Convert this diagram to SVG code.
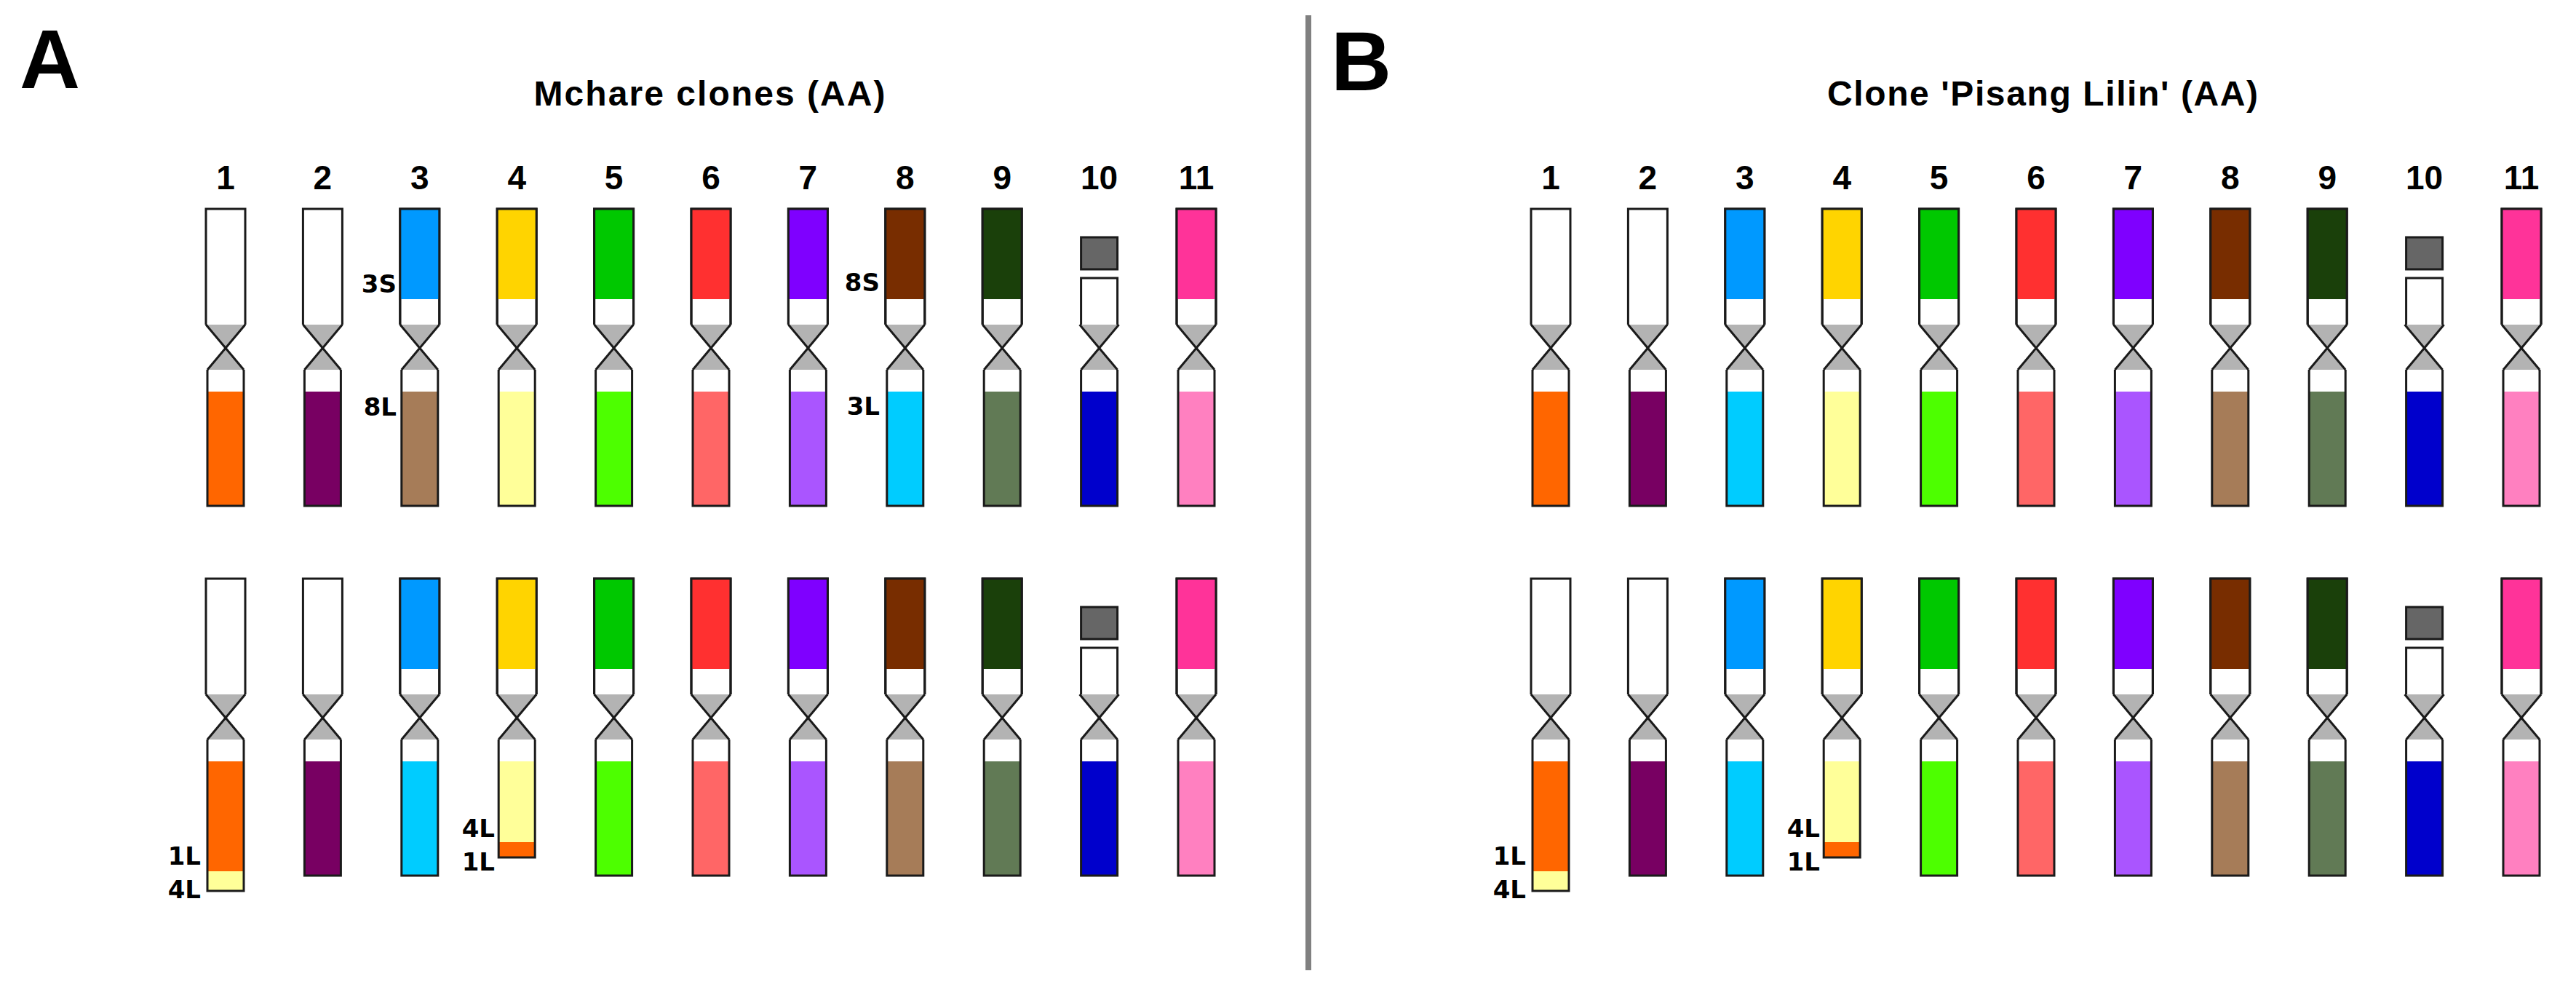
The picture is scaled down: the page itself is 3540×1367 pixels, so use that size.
<svg xmlns="http://www.w3.org/2000/svg" xmlns:xlink="http://www.w3.org/1999/xlink" width="3540" height="1367" viewBox="0 0 3540 1367">
<style>
.ol{fill:none;stroke:#1a1a1a;stroke-width:3;stroke-linejoin:miter}
.w{fill:#fff}
.pl{font-family:"Liberation Sans",Arial,sans-serif;font-weight:bold;fill:#000}
.ti{font-family:"Liberation Sans",Arial,sans-serif;font-weight:bold;font-size:48px;fill:#000;text-anchor:middle}
.num{font-family:"Liberation Sans",Arial,sans-serif;font-weight:bold;font-size:46px;fill:#000;text-anchor:middle}
.lb{font-family:"DejaVu Sans",sans-serif;font-weight:bold;font-size:34px;fill:#000;text-anchor:end}
</style>
<defs>
<g id="cen">
<polygon points="-27,159 27,159 0,190" fill="#b3b3b3"/>
<polygon points="-25,221 25,221 0,190" fill="#b3b3b3"/>
<path class="ol" d="M-27,159 L25,221 M27,159 L-25,221"/>
</g>
<g id="up"><rect class="w" x="-27" y="0" width="54" height="159"/><path class="ol" d="M-27,159 V0 H27 V159"/></g>
<g id="lo"><rect class="w" x="-25" y="221" width="50" height="187"/><path class="ol" d="M-25,221 V408 H25 V221"/></g>
<g id="up10"><rect x="-25" y="39" width="50" height="44" fill="#666" stroke="#1a1a1a" stroke-width="3"/><rect class="w" x="-25" y="95" width="50" height="64"/><path class="ol" d="M-25,159 V95 H25 V159"/></g>
</defs>
<rect x="0" y="0" width="3540" height="1367" fill="#fff"/>
<rect x="1794" y="21" width="8" height="1312" fill="#808080"/>
<text class="pl" x="27" y="121" font-size="115">A</text>
<text class="pl" x="1829" y="124" font-size="115">B</text>
<text class="ti" x="975" y="145" textLength="483">Mchare clones (AA)</text>
<text class="ti" x="2807" y="145" textLength="592">Clone 'Pisang Lilin' (AA)</text>
<g id="numsA">
<text class="num" x="310" y="260">1</text><text class="num" x="443.4" y="260">2</text><text class="num" x="576.8" y="260">3</text><text class="num" x="710.2" y="260">4</text><text class="num" x="843.6" y="260">5</text><text class="num" x="977" y="260">6</text><text class="num" x="1110.4" y="260">7</text><text class="num" x="1243.8" y="260">8</text><text class="num" x="1377.2" y="260">9</text><text class="num" x="1510.6" y="260">10</text><text class="num" x="1644" y="260">11</text>
</g>
<g id="numsB">
<text class="num" x="2131" y="260">1</text><text class="num" x="2264.4" y="260">2</text><text class="num" x="2397.8" y="260">3</text><text class="num" x="2531.2" y="260">4</text><text class="num" x="2664.6" y="260">5</text><text class="num" x="2798" y="260">6</text><text class="num" x="2931.4" y="260">7</text><text class="num" x="3064.8" y="260">8</text><text class="num" x="3198.2" y="260">9</text><text class="num" x="3331.6" y="260">10</text><text class="num" x="3465" y="260">11</text>
</g>

<!-- Panel A top row -->
<g id="A1-1" transform="translate(310,287)"><use xlink:href="#up"/><use xlink:href="#cen"/><rect x="-25" y="251" width="50" height="157" fill="#ff6600"/><use xlink:href="#lo" opacity="0"/><path class="ol" d="M-25,221 V408 H25 V221"/></g>
<g id="A1-2" transform="translate(443.4,287)"><use xlink:href="#up"/><use xlink:href="#cen"/><rect x="-25" y="251" width="50" height="157" fill="#780062"/><path class="ol" d="M-25,221 V408 H25 V221"/></g>
<g id="A1-3" transform="translate(576.8,287)"><use xlink:href="#up"/><rect x="-27" y="0" width="54" height="124" fill="#0099ff"/><path class="ol" d="M-27,159 V0 H27 V159"/><use xlink:href="#cen"/><rect x="-25" y="251" width="50" height="157" fill="#a67c58"/><path class="ol" d="M-25,221 V408 H25 V221"/></g>
<g id="A1-4" transform="translate(710.2,287)"><use xlink:href="#up"/><rect x="-27" y="0" width="54" height="124" fill="#ffd400"/><path class="ol" d="M-27,159 V0 H27 V159"/><use xlink:href="#cen"/><rect x="-25" y="251" width="50" height="157" fill="#ffff99"/><path class="ol" d="M-25,221 V408 H25 V221"/></g>
<g id="A1-5" transform="translate(843.6,287)"><use xlink:href="#up"/><rect x="-27" y="0" width="54" height="124" fill="#00c800"/><path class="ol" d="M-27,159 V0 H27 V159"/><use xlink:href="#cen"/><rect x="-25" y="251" width="50" height="157" fill="#4dff00"/><path class="ol" d="M-25,221 V408 H25 V221"/></g>
<g id="A1-6" transform="translate(977,287)"><use xlink:href="#up"/><rect x="-27" y="0" width="54" height="124" fill="#ff3030"/><path class="ol" d="M-27,159 V0 H27 V159"/><use xlink:href="#cen"/><rect x="-25" y="251" width="50" height="157" fill="#ff6666"/><path class="ol" d="M-25,221 V408 H25 V221"/></g>
<g id="A1-7" transform="translate(1110.4,287)"><use xlink:href="#up"/><rect x="-27" y="0" width="54" height="124" fill="#7f00ff"/><path class="ol" d="M-27,159 V0 H27 V159"/><use xlink:href="#cen"/><rect x="-25" y="251" width="50" height="157" fill="#aa55ff"/><path class="ol" d="M-25,221 V408 H25 V221"/></g>
<g id="A1-8" transform="translate(1243.8,287)"><use xlink:href="#up"/><rect x="-27" y="0" width="54" height="124" fill="#782d00"/><path class="ol" d="M-27,159 V0 H27 V159"/><use xlink:href="#cen"/><rect x="-25" y="251" width="50" height="157" fill="#00ccff"/><path class="ol" d="M-25,221 V408 H25 V221"/></g>
<g id="A1-9" transform="translate(1377.2,287)"><use xlink:href="#up"/><rect x="-27" y="0" width="54" height="124" fill="#1a400a"/><path class="ol" d="M-27,159 V0 H27 V159"/><use xlink:href="#cen"/><rect x="-25" y="251" width="50" height="157" fill="#617a55"/><path class="ol" d="M-25,221 V408 H25 V221"/></g>
<g id="A1-10" transform="translate(1510.6,287)"><use xlink:href="#up10"/><use xlink:href="#cen"/><rect x="-25" y="251" width="50" height="157" fill="#0000cc"/><path class="ol" d="M-25,221 V408 H25 V221"/></g>
<g id="A1-11" transform="translate(1644,287)"><use xlink:href="#up"/><rect x="-27" y="0" width="54" height="124" fill="#ff3399"/><path class="ol" d="M-27,159 V0 H27 V159"/><use xlink:href="#cen"/><rect x="-25" y="251" width="50" height="157" fill="#ff80c0"/><path class="ol" d="M-25,221 V408 H25 V221"/></g>
<text class="lb" x="545" y="402">3S</text>
<text class="lb" x="545" y="571">8L</text>
<text class="lb" x="1209" y="400">8S</text>
<text class="lb" x="1209" y="570">3L</text>

<!-- Panel A bottom row -->
<g id="A2-1" transform="translate(310,795)"><use xlink:href="#up"/><use xlink:href="#cen"/><rect x="-25" y="251" width="50" height="151" fill="#ff6600"/><rect x="-25" y="402" width="50" height="27" fill="#ffff99"/><path class="ol" d="M-25,221 V429 H25 V221"/></g>
<g id="A2-2" transform="translate(443.4,795)"><use xlink:href="#up"/><use xlink:href="#cen"/><rect x="-25" y="251" width="50" height="157" fill="#780062"/><path class="ol" d="M-25,221 V408 H25 V221"/></g>
<g id="A2-3" transform="translate(576.8,795)"><use xlink:href="#up"/><rect x="-27" y="0" width="54" height="124" fill="#0099ff"/><path class="ol" d="M-27,159 V0 H27 V159"/><use xlink:href="#cen"/><rect x="-25" y="251" width="50" height="157" fill="#00ccff"/><path class="ol" d="M-25,221 V408 H25 V221"/></g>
<g id="A2-4" transform="translate(710.2,795)"><use xlink:href="#up"/><rect x="-27" y="0" width="54" height="124" fill="#ffd400"/><path class="ol" d="M-27,159 V0 H27 V159"/><use xlink:href="#cen"/><rect class="w" x="-25" y="221" width="50" height="30"/><rect x="-25" y="251" width="50" height="111" fill="#ffff99"/><rect x="-25" y="362" width="50" height="21" fill="#ff6600"/><path class="ol" d="M-25,221 V383 H25 V221"/></g>
<g id="A2-5" transform="translate(843.6,795)"><use xlink:href="#up"/><rect x="-27" y="0" width="54" height="124" fill="#00c800"/><path class="ol" d="M-27,159 V0 H27 V159"/><use xlink:href="#cen"/><rect x="-25" y="251" width="50" height="157" fill="#4dff00"/><path class="ol" d="M-25,221 V408 H25 V221"/></g>
<g id="A2-6" transform="translate(977,795)"><use xlink:href="#up"/><rect x="-27" y="0" width="54" height="124" fill="#ff3030"/><path class="ol" d="M-27,159 V0 H27 V159"/><use xlink:href="#cen"/><rect x="-25" y="251" width="50" height="157" fill="#ff6666"/><path class="ol" d="M-25,221 V408 H25 V221"/></g>
<g id="A2-7" transform="translate(1110.4,795)"><use xlink:href="#up"/><rect x="-27" y="0" width="54" height="124" fill="#7f00ff"/><path class="ol" d="M-27,159 V0 H27 V159"/><use xlink:href="#cen"/><rect x="-25" y="251" width="50" height="157" fill="#aa55ff"/><path class="ol" d="M-25,221 V408 H25 V221"/></g>
<g id="A2-8" transform="translate(1243.8,795)"><use xlink:href="#up"/><rect x="-27" y="0" width="54" height="124" fill="#782d00"/><path class="ol" d="M-27,159 V0 H27 V159"/><use xlink:href="#cen"/><rect x="-25" y="251" width="50" height="157" fill="#a67c58"/><path class="ol" d="M-25,221 V408 H25 V221"/></g>
<g id="A2-9" transform="translate(1377.2,795)"><use xlink:href="#up"/><rect x="-27" y="0" width="54" height="124" fill="#1a400a"/><path class="ol" d="M-27,159 V0 H27 V159"/><use xlink:href="#cen"/><rect x="-25" y="251" width="50" height="157" fill="#617a55"/><path class="ol" d="M-25,221 V408 H25 V221"/></g>
<g id="A2-10" transform="translate(1510.6,795)"><use xlink:href="#up10"/><use xlink:href="#cen"/><rect x="-25" y="251" width="50" height="157" fill="#0000cc"/><path class="ol" d="M-25,221 V408 H25 V221"/></g>
<g id="A2-11" transform="translate(1644,795)"><use xlink:href="#up"/><rect x="-27" y="0" width="54" height="124" fill="#ff3399"/><path class="ol" d="M-27,159 V0 H27 V159"/><use xlink:href="#cen"/><rect x="-25" y="251" width="50" height="157" fill="#ff80c0"/><path class="ol" d="M-25,221 V408 H25 V221"/></g>
<text class="lb" x="276" y="1188">1L</text>
<text class="lb" x="276" y="1234">4L</text>
<text class="lb" x="680" y="1150">4L</text>
<text class="lb" x="680" y="1196">1L</text>

<!-- Panel B top row -->
<g id="B1-1" transform="translate(2131,287)"><use xlink:href="#up"/><use xlink:href="#cen"/><rect x="-25" y="251" width="50" height="157" fill="#ff6600"/><path class="ol" d="M-25,221 V408 H25 V221"/></g>
<g id="B1-2" transform="translate(2264.4,287)"><use xlink:href="#up"/><use xlink:href="#cen"/><rect x="-25" y="251" width="50" height="157" fill="#780062"/><path class="ol" d="M-25,221 V408 H25 V221"/></g>
<g id="B1-3" transform="translate(2397.8,287)"><use xlink:href="#up"/><rect x="-27" y="0" width="54" height="124" fill="#0099ff"/><path class="ol" d="M-27,159 V0 H27 V159"/><use xlink:href="#cen"/><rect x="-25" y="251" width="50" height="157" fill="#00ccff"/><path class="ol" d="M-25,221 V408 H25 V221"/></g>
<g id="B1-4" transform="translate(2531.2,287)"><use xlink:href="#up"/><rect x="-27" y="0" width="54" height="124" fill="#ffd400"/><path class="ol" d="M-27,159 V0 H27 V159"/><use xlink:href="#cen"/><rect x="-25" y="251" width="50" height="157" fill="#ffff99"/><path class="ol" d="M-25,221 V408 H25 V221"/></g>
<g id="B1-5" transform="translate(2664.6,287)"><use xlink:href="#up"/><rect x="-27" y="0" width="54" height="124" fill="#00c800"/><path class="ol" d="M-27,159 V0 H27 V159"/><use xlink:href="#cen"/><rect x="-25" y="251" width="50" height="157" fill="#4dff00"/><path class="ol" d="M-25,221 V408 H25 V221"/></g>
<g id="B1-6" transform="translate(2798,287)"><use xlink:href="#up"/><rect x="-27" y="0" width="54" height="124" fill="#ff3030"/><path class="ol" d="M-27,159 V0 H27 V159"/><use xlink:href="#cen"/><rect x="-25" y="251" width="50" height="157" fill="#ff6666"/><path class="ol" d="M-25,221 V408 H25 V221"/></g>
<g id="B1-7" transform="translate(2931.4,287)"><use xlink:href="#up"/><rect x="-27" y="0" width="54" height="124" fill="#7f00ff"/><path class="ol" d="M-27,159 V0 H27 V159"/><use xlink:href="#cen"/><rect x="-25" y="251" width="50" height="157" fill="#aa55ff"/><path class="ol" d="M-25,221 V408 H25 V221"/></g>
<g id="B1-8" transform="translate(3064.8,287)"><use xlink:href="#up"/><rect x="-27" y="0" width="54" height="124" fill="#782d00"/><path class="ol" d="M-27,159 V0 H27 V159"/><use xlink:href="#cen"/><rect x="-25" y="251" width="50" height="157" fill="#a67c58"/><path class="ol" d="M-25,221 V408 H25 V221"/></g>
<g id="B1-9" transform="translate(3198.2,287)"><use xlink:href="#up"/><rect x="-27" y="0" width="54" height="124" fill="#1a400a"/><path class="ol" d="M-27,159 V0 H27 V159"/><use xlink:href="#cen"/><rect x="-25" y="251" width="50" height="157" fill="#617a55"/><path class="ol" d="M-25,221 V408 H25 V221"/></g>
<g id="B1-10" transform="translate(3331.6,287)"><use xlink:href="#up10"/><use xlink:href="#cen"/><rect x="-25" y="251" width="50" height="157" fill="#0000cc"/><path class="ol" d="M-25,221 V408 H25 V221"/></g>
<g id="B1-11" transform="translate(3465,287)"><use xlink:href="#up"/><rect x="-27" y="0" width="54" height="124" fill="#ff3399"/><path class="ol" d="M-27,159 V0 H27 V159"/><use xlink:href="#cen"/><rect x="-25" y="251" width="50" height="157" fill="#ff80c0"/><path class="ol" d="M-25,221 V408 H25 V221"/></g>

<!-- Panel B bottom row -->
<g id="B2-1" transform="translate(2131,795)"><use xlink:href="#up"/><use xlink:href="#cen"/><rect x="-25" y="251" width="50" height="151" fill="#ff6600"/><rect x="-25" y="402" width="50" height="27" fill="#ffff99"/><path class="ol" d="M-25,221 V429 H25 V221"/></g>
<g id="B2-2" transform="translate(2264.4,795)"><use xlink:href="#up"/><use xlink:href="#cen"/><rect x="-25" y="251" width="50" height="157" fill="#780062"/><path class="ol" d="M-25,221 V408 H25 V221"/></g>
<g id="B2-3" transform="translate(2397.8,795)"><use xlink:href="#up"/><rect x="-27" y="0" width="54" height="124" fill="#0099ff"/><path class="ol" d="M-27,159 V0 H27 V159"/><use xlink:href="#cen"/><rect x="-25" y="251" width="50" height="157" fill="#00ccff"/><path class="ol" d="M-25,221 V408 H25 V221"/></g>
<g id="B2-4" transform="translate(2531.2,795)"><use xlink:href="#up"/><rect x="-27" y="0" width="54" height="124" fill="#ffd400"/><path class="ol" d="M-27,159 V0 H27 V159"/><use xlink:href="#cen"/><rect class="w" x="-25" y="221" width="50" height="30"/><rect x="-25" y="251" width="50" height="111" fill="#ffff99"/><rect x="-25" y="362" width="50" height="21" fill="#ff6600"/><path class="ol" d="M-25,221 V383 H25 V221"/></g>
<g id="B2-5" transform="translate(2664.6,795)"><use xlink:href="#up"/><rect x="-27" y="0" width="54" height="124" fill="#00c800"/><path class="ol" d="M-27,159 V0 H27 V159"/><use xlink:href="#cen"/><rect x="-25" y="251" width="50" height="157" fill="#4dff00"/><path class="ol" d="M-25,221 V408 H25 V221"/></g>
<g id="B2-6" transform="translate(2798,795)"><use xlink:href="#up"/><rect x="-27" y="0" width="54" height="124" fill="#ff3030"/><path class="ol" d="M-27,159 V0 H27 V159"/><use xlink:href="#cen"/><rect x="-25" y="251" width="50" height="157" fill="#ff6666"/><path class="ol" d="M-25,221 V408 H25 V221"/></g>
<g id="B2-7" transform="translate(2931.4,795)"><use xlink:href="#up"/><rect x="-27" y="0" width="54" height="124" fill="#7f00ff"/><path class="ol" d="M-27,159 V0 H27 V159"/><use xlink:href="#cen"/><rect x="-25" y="251" width="50" height="157" fill="#aa55ff"/><path class="ol" d="M-25,221 V408 H25 V221"/></g>
<g id="B2-8" transform="translate(3064.8,795)"><use xlink:href="#up"/><rect x="-27" y="0" width="54" height="124" fill="#782d00"/><path class="ol" d="M-27,159 V0 H27 V159"/><use xlink:href="#cen"/><rect x="-25" y="251" width="50" height="157" fill="#a67c58"/><path class="ol" d="M-25,221 V408 H25 V221"/></g>
<g id="B2-9" transform="translate(3198.2,795)"><use xlink:href="#up"/><rect x="-27" y="0" width="54" height="124" fill="#1a400a"/><path class="ol" d="M-27,159 V0 H27 V159"/><use xlink:href="#cen"/><rect x="-25" y="251" width="50" height="157" fill="#617a55"/><path class="ol" d="M-25,221 V408 H25 V221"/></g>
<g id="B2-10" transform="translate(3331.6,795)"><use xlink:href="#up10"/><use xlink:href="#cen"/><rect x="-25" y="251" width="50" height="157" fill="#0000cc"/><path class="ol" d="M-25,221 V408 H25 V221"/></g>
<g id="B2-11" transform="translate(3465,795)"><use xlink:href="#up"/><rect x="-27" y="0" width="54" height="124" fill="#ff3399"/><path class="ol" d="M-27,159 V0 H27 V159"/><use xlink:href="#cen"/><rect x="-25" y="251" width="50" height="157" fill="#ff80c0"/><path class="ol" d="M-25,221 V408 H25 V221"/></g>
<text class="lb" x="2097" y="1188">1L</text>
<text class="lb" x="2097" y="1234">4L</text>
<text class="lb" x="2501" y="1150">4L</text>
<text class="lb" x="2501" y="1196">1L</text>
<g id="connectors"/>
</svg>
